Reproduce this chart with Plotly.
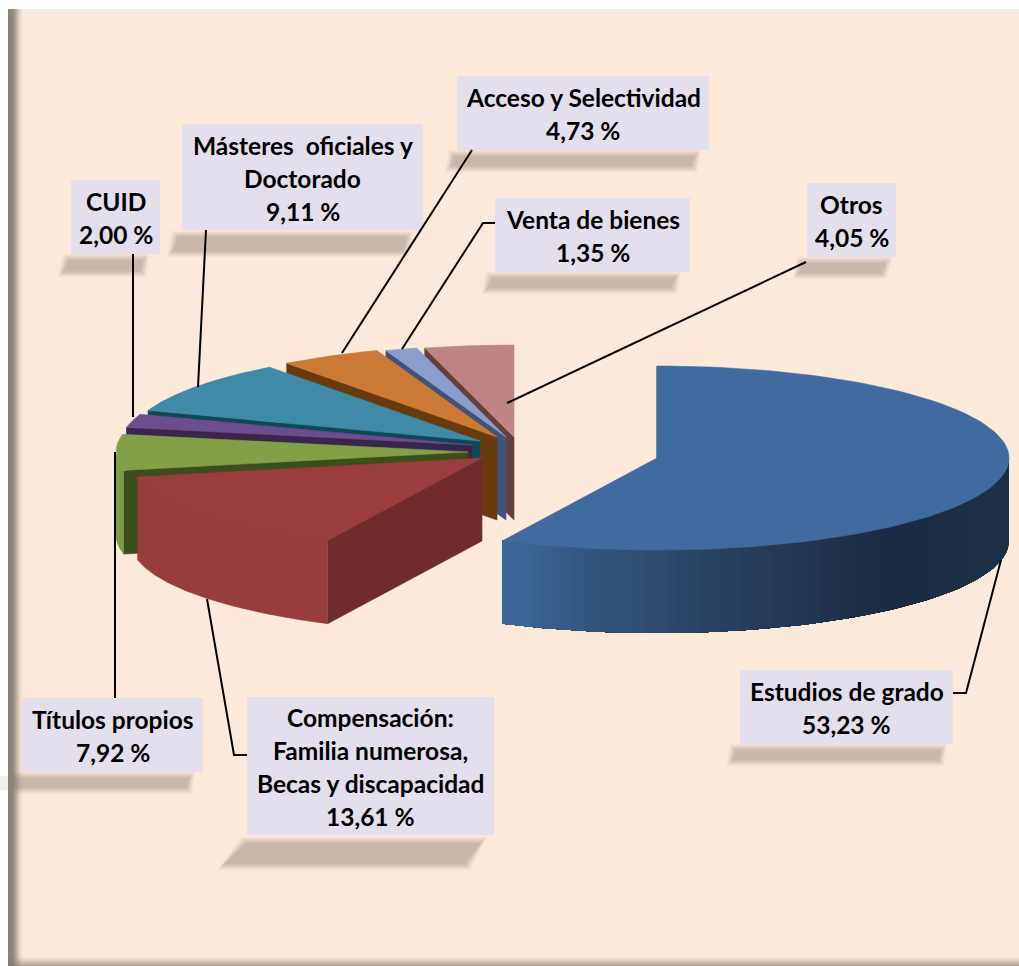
import numpy as np
import plotly.graph_objects as go

# ---------- data ----------
CATEGORIES = ["Estudios de grado", "Compensación:\nFamilia numerosa,\nBecas y discapacidad",
              "Títulos propios", "CUID", "Másteres  oficiales y\nDoctorado",
              "Acceso y Selectividad", "Venta de bienes", "Otros"]
VALUES = [53.23, 13.61, 7.92, 2.00, 9.11, 4.73, 1.35, 4.05]

# ---------- slice styling (same order as the data) ----------
TOP_COLORS = ["#416B9E", "#9A3E3D", "#83A046", "#6C4E8E", "#3F8AA6", "#CA7A34", "#8A9EC9", "#BF8585"]
FACE_COLORS = ["#2A4666", "#6F2C2A", "#3B4E1B", "#3A2550", "#0F4858", "#6A3A0F", "#3F5478", "#66403F"]
WALL_COLORS = [None, "#973D3C", "#7E9B47", "#5A3F78", "#327288", "#A8652A", "#6F84AC", "#9E6C6C"]
APEX_X = [657, 482, 468, 472, 480, 497, 506, 514]
APEX_Y = [458, 458, 452, 445, 441, 437, 437, 437]
RX, RY, DEPTH = 352, 92, 83
# the tilted view foreshortens the circle unevenly: true angle -> drawn angle
WARP_IN = [0, 199.6, 250.6, 280.3, 287.8, 322, 339.7, 344.8, 360]
WARP_OUT = [0, 206, 258, 281, 289.4, 323.3, 340, 345.3, 360]
BLUE_WALL_X = [503, 600, 690, 823, 890, 1009]
BLUE_WALL_RGB = [(63, 106, 155), (50, 84, 124), (42, 71, 104), (32, 52, 79), (26, 44, 68), (29, 50, 73)]

# ---------- callouts (same order as the data) ----------
BOXES = [(740, 670, 953, 744), (247, 697, 494, 835), (22, 698, 203, 772), (71, 180, 160, 254),
         (182, 124, 423, 230), (457, 76, 709, 150), (495, 198, 690, 272), (807, 183, 896, 257)]
LEADERS = [[(953, 693), (966, 693), (1001, 560)], [(247, 755), (234, 755), (207, 599)],
           [(115, 698), (115, 452)], [(133, 254), (133, 417)], [(206, 230), (198, 387)],
           [(472, 150), (342, 353)], [(495, 223), (483, 223), (402, 349)], [(806, 262), (507, 403)]]
# top-left x, top-right x, bottom-left x, bottom-right x, top y, bottom y
SHADOWS = [(729, 948, 726, 945, 743, 767), (240, 488, 217, 471, 836, 871), (8, 196, 8, 193, 771, 795),
           (62, 150, 57, 147, 253, 278), (171, 414, 166, 410, 230, 258), (448, 702, 444, 698, 149, 173),
           (485, 682, 481, 678, 271, 295), (796, 893, 792, 888, 256, 280)]

PEACH = "#FDE9D9"
PEACH_RGB = np.array([253, 233, 217])
SHADOW_RGB = np.array([200, 184, 168])
BOX_COLOR = "#E4DFEC"
FONT = "Lato"
FONT_SIZE = 24.5
LINE_GAP = 33
TEXT_SHIFT = 1

# ---------- geometry from the values ----------
vals = np.array(VALUES)
shares = vals / vals.sum() * 360
starts = np.concatenate([[0], np.cumsum(shares)[:-1]])
ends = starts + shares


def warp(t):
    return np.radians(np.interp(t, WARP_IN, WARP_OUT))


def rim(ax, ay, t):
    a = warp(t)
    return ax + RX * np.sin(a), ay - RY * np.cos(a)


fig = go.Figure()


def poly(xs, ys, color, width=0.6):
    fig.add_trace(go.Scatter(x=list(xs), y=list(ys), mode="lines", fill="toself", fillcolor=color,
                             line=dict(color=color, width=width), hoverinfo="skip", showlegend=False))


for i in reversed(range(len(vals))):
    ax, ay = APEX_X[i], APEX_Y[i]
    t = np.linspace(starts[i], ends[i], 120)
    xr, yr = rim(ax, ay, t)
    # inner face on the leading edge
    poly([ax, xr[0], xr[0], ax, ax], [ay, yr[0], yr[0] + DEPTH, ay + DEPTH, ay], FACE_COLORS[i])
    # outer wall (front half only)
    drawn = np.degrees(warp(t))
    mask = (drawn >= 90) & (drawn <= 270)
    if mask.any():
        xw, yw = xr[mask], yr[mask]
        if WALL_COLORS[i] is None:
            # gradient: each band runs to the end of the wall, so no seams show between bands
            for k in range(0, len(xw) - 1):
                mid = (xw[k] + xw[k + 1]) / 2
                rgb = [int(np.interp(mid, BLUE_WALL_X, [c[j] for c in BLUE_WALL_RGB])) for j in range(3)]
                poly(np.r_[xw[k:], xw[k:][::-1]], np.r_[yw[k:], yw[k:][::-1] + DEPTH],
                     f"rgb({rgb[0]},{rgb[1]},{rgb[2]})", width=0)
        else:
            poly(np.r_[xw, xw[::-1]], np.r_[yw, yw[::-1] + DEPTH], WALL_COLORS[i])
    # top
    poly(np.r_[ax, xr, ax], np.r_[ay, yr, ay], TOP_COLORS[i])

# ---------- page background ----------
shapes = [dict(type="rect", x0=8, x1=1019, y0=9, y1=966, fillcolor=PEACH, line_width=0, layer="below")]
shapes.append(dict(type="rect", x0=0, x1=8, y0=776, y1=790, fillcolor="#F1EDE9", line_width=0, layer="below"))

# soft shadows under the callouts: opaque nested trapezoids fading from peach to the shadow tone
N_LAYERS = 10
for (xa, xb, xc, xd, y0, y1) in SHADOWS:
    for k in range(N_LAYERS):
        d = k * 0.9
        f = (k + 1) / N_LAYERS
        f = f * f * (3 - 2 * f)
        c = (PEACH_RGB + (SHADOW_RGB - PEACH_RGB) * f).astype(int)
        path = (f"M {xa + d},{y0 + d} L {xb - d},{y0 + d} L {xd - d},{y1 - d} L {xc + d},{y1 - d} Z")
        shapes.append(dict(type="path", path=path, fillcolor=f"rgb({c[0]},{c[1]},{c[2]})", line_width=0,
                           layer="below"))

for x, a in zip(range(8, 23), [.9, .9, .88, .85, .82, .78, .7, .6, .5, .4, .3, .2, .13, .07, .03]):
    shapes.append(dict(type="rect", x0=x, x1=x + 1, y0=9, y1=966, fillcolor=f"rgba(125,116,108,{a})",
                       line_width=0, layer="below"))
for y, a in zip(range(957, 966), [.04, .1, .15, .2, .28, .35, .42, .5, .6]):
    shapes.append(dict(type="rect", x0=8, x1=1019, y0=y, y1=y + 1, fillcolor=f"rgba(125,116,108,{a})",
                       line_width=0, layer="below"))

# callout boxes and leaders
for (x0, y0, x1, y1) in BOXES:
    shapes.append(dict(type="rect", x0=x0, x1=x1, y0=y0, y1=y1, fillcolor=BOX_COLOR, line_width=0, layer="above"))
for pts in LEADERS:
    path = "M " + " L ".join(f"{x},{y}" for x, y in pts)
    shapes.append(dict(type="path", path=path, line=dict(color="#000000", width=2), layer="above"))

# ---------- texts ----------
annotations = []
for name, v, (x0, y0, x1, y1) in zip(CATEGORIES, VALUES, BOXES):
    lines = name.split("\n") + [f"{v:.2f} %".replace(".", ",")]
    cx, cy = (x0 + x1) / 2, (y0 + y1) / 2 + TEXT_SHIFT
    for j, line in enumerate(lines):
        annotations.append(dict(x=cx, y=cy + (j - (len(lines) - 1) / 2) * LINE_GAP, text=f"<b>{line}</b>",
                                showarrow=False, xanchor="center", yanchor="middle",
                                font=dict(family=FONT, size=FONT_SIZE, color="#000000")))

fig.update_layout(
    width=1019, height=966, margin=dict(l=0, r=0, t=0, b=0), paper_bgcolor="#FFFFFF", plot_bgcolor="rgba(0,0,0,0)",
    xaxis=dict(range=[0, 1019], visible=False, fixedrange=True),
    yaxis=dict(range=[966, 0], visible=False, fixedrange=True),
    shapes=shapes, annotations=annotations, showlegend=False,
)
fig.write_html("out.html", config=dict(displayModeBar=False),
               post_script="document.body.style.margin='0';document.body.style.overflow='hidden';")
